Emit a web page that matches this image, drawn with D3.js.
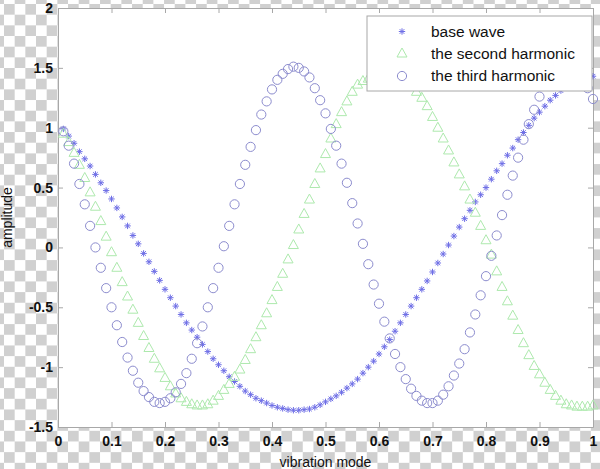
<!DOCTYPE html>
<html>
<head>
<meta charset="utf-8">
<script src="https://cdn.jsdelivr.net/npm/d3@7"></script>
<style>
  html, body { margin: 0; padding: 0; background: #fff; }
  svg { display: block; }
  text { font-family: "Liberation Sans", Arial, sans-serif; }
</style>
</head>
<body>
<script>
// ---- data ----
const xValues = [0.01,0.02,0.03,0.04,0.05,0.06,0.07,0.08,0.09,0.10,
  0.11,0.12,0.13,0.14,0.15,0.16,0.17,0.18,0.19,0.20,
  0.21,0.22,0.23,0.24,0.25,0.26,0.27,0.28,0.29,0.30,
  0.31,0.32,0.33,0.34,0.35,0.36,0.37,0.38,0.39,0.40,
  0.41,0.42,0.43,0.44,0.45,0.46,0.47,0.48,0.49,0.50,
  0.51,0.52,0.53,0.54,0.55,0.56,0.57,0.58,0.59,0.60,
  0.61,0.62,0.63,0.64,0.65,0.66,0.67,0.68,0.69,0.70,
  0.71,0.72,0.73,0.74,0.75,0.76,0.77,0.78,0.79,0.80,
  0.81,0.82,0.83,0.84,0.85,0.86,0.87,0.88,0.89,0.90,
  0.91,0.92,0.93,0.94,0.95,0.96,0.97,0.98,0.99,1.00];

const baseWave = [0.99,0.93,0.87,0.80,0.74,0.68,0.61,0.54,0.475,0.405,
  0.33,0.255,0.18,0.10,0.03,-0.05,-0.12,-0.20,-0.275,-0.35,
  -0.42,-0.49,-0.56,-0.63,-0.69,-0.75,-0.81,-0.87,-0.93,-0.98,
  -1.03,-1.08,-1.12,-1.16,-1.20,-1.23,-1.26,-1.28,-1.30,-1.32,
  -1.335,-1.345,-1.355,-1.36,-1.36,-1.355,-1.35,-1.335,-1.315,-1.29,
  -1.265,-1.24,-1.21,-1.175,-1.14,-1.10,-1.05,-1.00,-0.95,-0.89,
  -0.83,-0.77,-0.70,-0.63,-0.56,-0.49,-0.42,-0.35,-0.28,-0.205,
  -0.13,-0.055,0.02,0.095,0.17,0.24,0.31,0.38,0.44,0.50,
  0.57,0.64,0.70,0.77,0.83,0.90,0.96,1.02,1.08,1.13,
  1.18,1.23,1.27,1.31,1.34,1.37,1.39,1.41,1.42,1.43];

const secondHarmonic = [0.95,0.88,0.79,0.69,0.58,0.46,0.34,0.22,0.09,-0.04,
  -0.17,-0.29,-0.41,-0.52,-0.63,-0.74,-0.84,-0.93,-1.01,-1.09,
  -1.16,-1.22,-1.26,-1.29,-1.31,-1.32,-1.32,-1.31,-1.28,-1.24,
  -1.19,-1.14,-1.08,-1.02,-0.94,-0.85,-0.75,-0.65,-0.55,-0.44,
  -0.33,-0.22,-0.10,0.02,0.15,0.28,0.40,0.53,0.66,0.78,
  0.91,1.03,1.13,1.22,1.30,1.36,1.39,1.41,1.42,1.43,
  1.43,1.43,1.42,1.40,1.38,1.35,1.30,1.25,1.18,1.09,
  1.00,0.91,0.81,0.71,0.61,0.51,0.40,0.29,0.18,0.06,
  -0.06,-0.20,-0.33,-0.45,-0.57,-0.69,-0.80,-0.90,-0.99,-1.06,
  -1.13,-1.19,-1.24,-1.28,-1.31,-1.32,-1.33,-1.33,-1.33,-1.32];

const thirdHarmonic = [0.97,0.85,0.70,0.53,0.36,0.18,0.00,-0.17,-0.34,-0.50,
  -0.65,-0.79,-0.92,-1.03,-1.13,-1.20,-1.25,-1.29,-1.30,-1.29,
  -1.26,-1.21,-1.14,-1.05,-0.93,-0.80,-0.66,-0.50,-0.34,-0.17,
  0.01,0.18,0.36,0.53,0.69,0.84,0.98,1.11,1.22,1.32,
  1.40,1.45,1.49,1.51,1.50,1.47,1.42,1.33,1.23,1.12,
  0.99,0.85,0.70,0.54,0.37,0.20,0.03,-0.14,-0.31,-0.47,
  -0.62,-0.76,-0.89,-1.00,-1.10,-1.18,-1.24,-1.28,-1.30,-1.30,
  -1.28,-1.23,-1.16,-1.07,-0.97,-0.85,-0.71,-0.56,-0.40,-0.24,
  -0.07,0.10,0.27,0.44,0.60,0.75,0.90,1.03,1.15,1.26,
  1.35,1.41,1.46,1.49,1.50,1.49,1.46,1.40,1.33,1.24];

const seriesNames = ["base wave", "the second harmonic", "the third harmonic"];
const xTicks = [0,0.1,0.2,0.3,0.4,0.5,0.6,0.7,0.8,0.9,1];
const yTicks = [-1.5,-1,-0.5,0,0.5,1,1.5,2];
const xLabel = "vibration mode";
const yLabel = "amplitude";

// ---- layout ----
const W = 600, H = 469;
const x = d3.scaleLinear().domain([0, 1]).range([58, 593]);
const y = d3.scaleLinear().domain([-1.5, 2]).range([427, 8]);

const svg = d3.select("body").append("svg").attr("width", W).attr("height", H);

// transparent-look checkerboard background
const cs = 10.67;
const pat = svg.append("defs").append("pattern")
  .attr("id", "checker").attr("patternUnits", "userSpaceOnUse")
  .attr("x", 4).attr("y", 4).attr("width", cs * 2).attr("height", cs * 2);
pat.append("rect").attr("width", cs * 2).attr("height", cs * 2).attr("fill", "#ffffff");
pat.append("rect").attr("x", 0).attr("y", 0).attr("width", cs).attr("height", cs).attr("fill", "#d0d0d0");
pat.append("rect").attr("x", cs).attr("y", cs).attr("width", cs).attr("height", cs).attr("fill", "#d0d0d0");
svg.append("rect").attr("width", W).attr("height", H).attr("fill", "url(#checker)");

// plot area
svg.append("rect")
  .attr("x", x(0)).attr("y", y(2))
  .attr("width", x(1) - x(0)).attr("height", y(-1.5) - y(2))
  .attr("fill", "#ffffff");

const fmt = d => (d === 0 ? "0" : String(d));
const axisColor = "#a8a8a8";

function styleAxis(g) {
  g.selectAll(".domain").attr("stroke", axisColor).attr("stroke-width", 1);
  g.selectAll(".tick line").attr("stroke", axisColor).attr("stroke-width", 1);
  g.selectAll(".tick text").attr("fill", "#111").style("font-size", "14px")
    .style("font-weight", "bold")
    .style("font-family", "'Liberation Sans', Arial, sans-serif");
}

svg.append("g").attr("transform", `translate(0,${y(-1.5)})`)
  .call(d3.axisBottom(x).tickValues(xTicks).tickFormat(fmt).tickSizeInner(-5).tickSizeOuter(0).tickPadding(9))
  .call(styleAxis);
svg.append("g").attr("transform", `translate(0,${y(2)})`)
  .call(d3.axisTop(x).tickValues(xTicks).tickFormat("").tickSizeInner(-5).tickSizeOuter(0))
  .call(styleAxis);
svg.append("g").attr("transform", `translate(${x(0)},0)`)
  .call(d3.axisLeft(y).tickValues(yTicks).tickFormat(fmt).tickSizeInner(-5).tickSizeOuter(0).tickPadding(5))
  .call(styleAxis);
svg.append("g").attr("transform", `translate(${x(1)},0)`)
  .call(d3.axisRight(y).tickValues(yTicks).tickFormat("").tickSizeInner(-5).tickSizeOuter(0))
  .call(styleAxis);

// axis labels
svg.append("text").attr("x", (x(0) + x(1)) / 2).attr("y", 467)
  .attr("text-anchor", "middle").attr("fill", "#111").style("font-size", "14px").text(xLabel);
svg.append("text").attr("transform", `translate(12,${(y(-1.5) + y(2)) / 2}) rotate(-90)`)
  .attr("text-anchor", "middle").attr("fill", "#111").style("font-size", "14px").text(yLabel);

// marker shapes
const starPath = "M-3.2,0H3.2M0,-3.2V3.2M-2.3,-2.3L2.3,2.3M-2.3,2.3L2.3,-2.3";
const triPath = "M0,-5.5L5,3.5L-5,3.5Z";
const colors = { star: "#6e6ee6", tri: "#ade9ad", circ: "#8c8cce" };

function drawMarkers(values, kind) {
  const g = svg.append("g");
  const data = xValues.map((xv, i) => ({ x: xv, y: values[i] }));
  if (kind === "circ") {
    g.selectAll("circle").data(data).join("circle")
      .attr("cx", d => x(d.x)).attr("cy", d => y(d.y)).attr("r", 4.6)
      .attr("fill", "none").attr("stroke", colors.circ).attr("stroke-width", 1);
  } else {
    g.selectAll("path").data(data).join("path")
      .attr("transform", d => `translate(${x(d.x)},${y(d.y)})`)
      .attr("d", kind === "star" ? starPath : triPath)
      .attr("fill", "none").attr("stroke", colors[kind]).attr("stroke-width", 1);
  }
}
drawMarkers(baseWave, "star");
drawMarkers(secondHarmonic, "tri");
drawMarkers(thirdHarmonic, "circ");

// legend
const lg = svg.append("g");
lg.append("rect").attr("x", 367).attr("y", 16).attr("width", 225).attr("height", 75)
  .attr("fill", "#ffffff").attr("stroke", "#a8a8a8").attr("stroke-width", 1);
const kinds = ["star", "tri", "circ"];
const rowY = [31.5, 53.5, 76];
seriesNames.forEach((name, i) => {
  const k = kinds[i];
  if (k === "circ") {
    lg.append("circle").attr("cx", 402).attr("cy", rowY[i]).attr("r", 4.6)
      .attr("fill", "none").attr("stroke", colors.circ);
  } else {
    lg.append("path").attr("transform", `translate(402,${rowY[i]})`)
      .attr("d", k === "star" ? starPath : triPath)
      .attr("fill", "none").attr("stroke", colors[k]);
  }
  lg.append("text").attr("x", 431).attr("y", rowY[i]).attr("dy", "0.35em")
    .attr("fill", "#111").style("font-size", "15.5px").text(name);
});
</script>
</body>
</html>
